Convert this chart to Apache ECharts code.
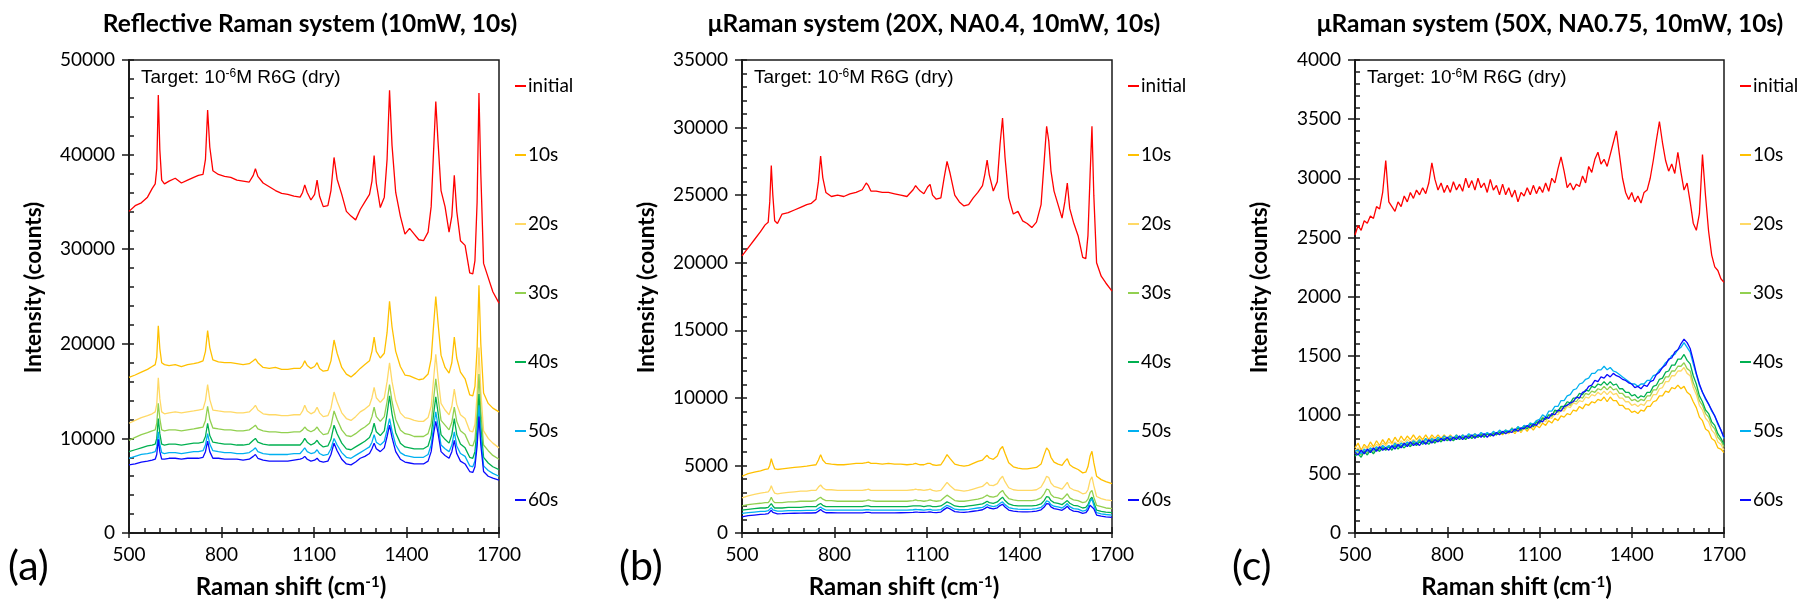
<!DOCTYPE html>
<html>
<head>
<meta charset="utf-8">
<script src="https://cdn.jsdelivr.net/npm/echarts@6/dist/echarts.min.js"></script>
<style>
html, body { margin: 0; padding: 0; background: #fff; }
#chart { width: 1803px; height: 604px; }
</style>
</head>
<body>
<div id="chart"></div>
<script>
// Raman shift (cm-1) sample points shared by panels (a) and (b)
const SHIFT_AB = [
    500, 520, 540, 560, 575, 585, 590, 595, 600, 606,
    615, 630, 650, 670, 690, 710, 725, 740, 748, 755,
    762, 772, 790, 810, 830, 850, 870, 890, 903, 910,
    918, 935, 955, 975, 995, 1015, 1035, 1055, 1063, 1070,
    1078, 1090, 1102, 1110, 1118, 1130, 1145, 1155, 1165, 1175,
    1190, 1205, 1220, 1235, 1250, 1265, 1280, 1288, 1295, 1302,
    1315, 1328, 1337, 1345, 1353, 1365, 1380, 1395, 1410, 1425,
    1440, 1455, 1470, 1480, 1488, 1495, 1502, 1512, 1525, 1538,
    1547, 1555, 1563, 1575, 1590, 1605, 1615, 1622, 1629, 1635,
    1641, 1650, 1665, 1680, 1700
];

// (a) Reflective Raman system
const A_INIT = [
    34000, 34600, 34900, 35500, 36400, 36900, 38500, 46300, 40500, 37300,
    36900, 37200, 37500, 37000, 37300, 37600, 37800, 37900, 39500, 44700,
    40800, 38300, 37900, 37700, 37600, 37300, 37200, 37100, 37800, 38500,
    37700, 37000, 36600, 36200, 35900, 35800, 35600, 35500, 36000, 36800,
    36000, 35200, 35800, 37300, 35600, 34500, 34600, 36200, 39700, 37400,
    35800, 34000, 33500, 33100, 34200, 35000, 35800, 37200, 39900, 37000,
    34400, 35500, 39500, 46800, 41000, 36000, 33500, 31600, 32200, 31600,
    31000, 30900, 31800, 34500, 40500, 45600, 41500, 36200, 34500, 31800,
    33500, 37800, 34000, 30900, 30400, 27500, 27400, 28800, 35000, 46500,
    38000, 28500, 27000, 25500, 24300
];
const A_10 = [
    16450, 16700, 17000, 17300, 17600, 17800, 18600, 21900, 19500, 18000,
    17800, 17700, 17800, 17600, 17800, 17900, 18000, 18200, 19200, 21400,
    19600, 18300, 18100, 18000, 18000, 17900, 17800, 17900, 18200, 18400,
    18000, 17500, 17400, 17500, 17300, 17300, 17400, 17400, 17700, 18200,
    17700, 17400, 17600, 18000, 17400, 17100, 17200, 18200, 20400, 19000,
    17500, 16800, 16500, 16900, 17400, 17800, 18200, 19200, 20700, 19200,
    18500, 19000, 21200, 24500, 21800, 19200, 17600, 16700, 16600, 16400,
    16200, 16300, 16800, 18400, 22000, 25000, 22300, 18800, 17500, 16900,
    18000, 20700, 18500, 17000, 16300, 14600, 14500, 15500, 19500, 26200,
    20000, 14800, 13700, 13200, 12800
];
const A_20 = [
    11600, 11900, 12200, 12400, 12600, 12800, 13600, 16400, 14200, 12800,
    12600, 12700, 12800, 12700, 12800, 12900, 13000, 13100, 14000, 15700,
    14100, 13000, 12900, 12800, 12800, 12700, 12700, 12800, 13200, 13500,
    13000, 12600, 12500, 12500, 12400, 12400, 12500, 12500, 12900, 13500,
    12900, 12600, 12800, 13300, 12700, 12300, 12400, 13200, 14900, 13900,
    12700, 12100, 11900, 12300, 12800, 13100, 13500, 14300, 15400, 14300,
    13800, 14300, 16000, 18000, 16000, 14000, 12700, 12200, 12100, 11900,
    11800, 11800, 12200, 13400, 16300, 18900, 16500, 13700, 13000, 12500,
    13400, 15200, 13600, 12500, 12100, 10800, 10700, 11500, 14700, 19600,
    15000, 10800, 10000, 9500, 9000
];
const A_30 = [
    9800, 10100, 10400, 10600, 10800, 10900, 11600, 13700, 12100, 10900,
    10800, 10900, 10900, 10800, 10900, 11000, 11100, 11200, 11900, 13400,
    12000, 11100, 11000, 10900, 10900, 10800, 10800, 10900, 11200, 11400,
    11000, 10800, 10700, 10700, 10600, 10600, 10700, 10700, 10900, 11200,
    10900, 10700, 10900, 11200, 10800, 10400, 10500, 11300, 12900, 12000,
    10900, 10300, 10200, 10500, 10900, 11200, 11600, 12300, 13300, 12300,
    11800, 12300, 13900, 15700, 13900, 12000, 10900, 10500, 10400, 10200,
    10200, 10200, 10500, 11600, 14200, 16300, 14400, 11900, 11400, 10900,
    11700, 13300, 11800, 10800, 10400, 9300, 9200, 9900, 12700, 16800,
    12900, 9300, 8700, 8200, 7800
];
const A_40 = [
    8600, 8800, 9000, 9200, 9300, 9400, 10000, 12100, 10500, 9400,
    9300, 9400, 9400, 9300, 9400, 9500, 9500, 9600, 10200, 11600,
    10300, 9600, 9500, 9400, 9400, 9300, 9300, 9400, 9800, 10000,
    9600, 9400, 9300, 9300, 9300, 9300, 9300, 9300, 9600, 10000,
    9600, 9300, 9500, 9800, 9400, 9100, 9200, 9900, 11400, 10500,
    9500, 8900, 8800, 9100, 9400, 9700, 10100, 10700, 11600, 10700,
    10300, 10800, 12600, 14500, 12600, 10600, 9500, 9100, 9000, 8900,
    8900, 8900, 9200, 10300, 12600, 14400, 12800, 10400, 9900, 9500,
    10400, 12100, 10400, 9400, 9000, 8000, 7900, 8600, 11000, 14700,
    11200, 8000, 7400, 7000, 6700
];
const A_50 = [
    7900, 8100, 8300, 8400, 8500, 8600, 9100, 10700, 9400, 8500,
    8400, 8500, 8500, 8400, 8500, 8600, 8600, 8700, 9300, 10500,
    9400, 8700, 8600, 8500, 8500, 8400, 8400, 8500, 8800, 9000,
    8600, 8400, 8300, 8300, 8300, 8300, 8400, 8400, 8700, 9000,
    8600, 8400, 8500, 8800, 8400, 8200, 8300, 8900, 10000, 9300,
    8500, 8000, 7900, 8200, 8500, 8800, 9100, 9600, 10400, 9600,
    9300, 9700, 10900, 12100, 10800, 9300, 8500, 8200, 8100, 8000,
    8000, 8000, 8300, 9300, 11300, 12800, 11400, 9300, 8900, 8600,
    9300, 10700, 9200, 8400, 8100, 7100, 7000, 7600, 10000, 13500,
    10200, 7100, 6600, 6300, 6000
];
const A_60 = [
    7200, 7300, 7500, 7600, 7700, 7800, 8300, 9900, 8600, 7800,
    7800, 7900, 7900, 7800, 7900, 7900, 7900, 8000, 8600, 9700,
    8600, 7900, 7900, 7800, 7800, 7800, 7700, 7800, 8100, 8300,
    7900, 7700, 7600, 7600, 7600, 7600, 7700, 7800, 7900, 8100,
    7800, 7600, 7700, 7900, 7600, 7500, 7600, 8300, 9500, 8700,
    7800, 7300, 7200, 7500, 7900, 8100, 8400, 8900, 9500, 8900,
    8600, 9000, 10200, 11400, 10100, 8600, 7800, 7500, 7400, 7300,
    7300, 7300, 7600, 8600, 10500, 11800, 10600, 8600, 8200, 7900,
    8600, 9800, 8400, 7600, 7300, 6500, 6400, 7000, 9200, 12300,
    9300, 6500, 6000, 5800, 5600
];

// (b) uRaman system, 20X
const B_INIT = [
    20500, 21100, 21700, 22300, 22800, 23000, 24500, 27200, 25000, 23100,
    22900, 23600, 23700, 23900, 24100, 24300, 24400, 24700, 26000, 27900,
    26300, 25200, 24900, 25000, 24900, 25100, 25200, 25400, 25900, 25700,
    25300, 25300, 25200, 25200, 25100, 25000, 24900, 25400, 25700, 25500,
    25300, 25100, 25600, 25800, 25000, 24700, 24800, 26200, 27500, 26600,
    25000, 24500, 24200, 24300, 24800, 25200, 25700, 26600, 27600, 26500,
    25300, 26000, 28800, 30700, 27800, 24800, 23600, 23800, 23100, 22900,
    22600, 23000, 24300, 27500, 30100, 29000, 26800, 25300, 24300, 23300,
    24500, 25900, 24000, 23000, 22000, 20400, 20300, 22000, 26500, 30100,
    25000, 20000, 19000, 18500, 17900
];
const B_10 = [
    4200, 4400, 4500, 4600, 4700, 4750, 5000, 5500, 5100, 4750,
    4700, 4750, 4800, 4850, 4900, 4950, 5000, 5050, 5400, 5800,
    5400, 5150, 5100, 5050, 5050, 5100, 5150, 5150, 5200, 5250,
    5150, 5150, 5100, 5150, 5100, 5100, 5050, 5100, 5150, 5100,
    5050, 5050, 5150, 5150, 5050, 5000, 5050, 5400, 5800, 5500,
    5100, 5000, 4950, 5000, 5150, 5300, 5400, 5600, 5750, 5550,
    5450, 5700, 6200, 6400, 5900, 5200, 4900, 4800, 4750, 4750,
    4800, 4850, 5100, 5800, 6300, 6100, 5600, 5250, 5100, 5000,
    5300, 5500, 5050, 4850, 4700, 4450, 4500, 4900, 5700, 6050,
    5200, 4200, 3950, 3800, 3650
];
const B_20 = [
    2600, 2750, 2850, 2950, 3000, 3050, 3200, 3500, 3200, 2950,
    2900, 2950, 3000, 3050, 3100, 3100, 3150, 3150, 3400, 3550,
    3350, 3200, 3200, 3150, 3150, 3150, 3150, 3150, 3200, 3250,
    3150, 3150, 3150, 3150, 3150, 3150, 3150, 3200, 3250, 3200,
    3200, 3150, 3200, 3250, 3150, 3100, 3150, 3450, 3750, 3500,
    3200, 3150, 3100, 3150, 3250, 3350, 3450, 3600, 3750, 3550,
    3500, 3650, 4000, 4200, 3800, 3350, 3200, 3150, 3150, 3150,
    3150, 3200, 3400, 3800, 4200, 4100, 3700, 3450, 3350, 3250,
    3500, 3750, 3350, 3200, 3100, 2900, 2950, 3200, 3900, 4150,
    3500, 2700, 2550, 2450, 2400
];
const B_30 = [
    2000, 2100, 2150, 2200, 2250, 2250, 2400, 2650, 2400, 2250,
    2250, 2250, 2300, 2300, 2350, 2350, 2350, 2400, 2550, 2650,
    2500, 2400, 2400, 2350, 2350, 2350, 2350, 2350, 2400, 2450,
    2400, 2350, 2350, 2350, 2350, 2350, 2350, 2400, 2450, 2400,
    2400, 2350, 2400, 2450, 2400, 2350, 2400, 2600, 2800, 2650,
    2400, 2350, 2350, 2400, 2450, 2500, 2600, 2700, 2800, 2700,
    2650, 2750, 3000, 3150, 2850, 2550, 2450, 2400, 2400, 2400,
    2400, 2450, 2600, 2900, 3250, 3200, 2850, 2650, 2600, 2500,
    2700, 2900, 2600, 2450, 2400, 2250, 2300, 2500, 3000, 3150,
    2650, 2050, 1950, 1850, 1800
];
const B_40 = [
    1700, 1750, 1800, 1850, 1850, 1900, 1950, 2180, 2000, 1850,
    1850, 1850, 1900, 1900, 1900, 1950, 1950, 1950, 2100, 2180,
    2050, 1950, 1950, 1950, 1950, 1950, 1950, 1950, 2000, 2000,
    1950, 1950, 1950, 1950, 1950, 1950, 1950, 2000, 2000, 2000,
    2000, 1950, 2000, 2000, 1950, 1950, 2000, 2150, 2300, 2200,
    2000, 1950, 1950, 2000, 2050, 2100, 2150, 2250, 2350, 2250,
    2200, 2300, 2500, 2650, 2400, 2150, 2050, 2000, 2000, 2000,
    2000, 2050, 2150, 2400, 2700, 2650, 2400, 2250, 2200, 2100,
    2250, 2400, 2200, 2050, 2000, 1850, 1900, 2100, 2500, 2650,
    2250, 1700, 1600, 1550, 1500
];
const B_50 = [
    1450, 1500, 1550, 1600, 1600, 1650, 1700, 1880, 1720, 1620,
    1620, 1620, 1650, 1650, 1650, 1680, 1680, 1700, 1820, 1930,
    1800, 1700, 1700, 1690, 1690, 1690, 1690, 1690, 1720, 1730,
    1700, 1690, 1690, 1690, 1690, 1690, 1700, 1720, 1740, 1730,
    1720, 1700, 1730, 1740, 1700, 1690, 1730, 1900, 2050, 1950,
    1760, 1720, 1720, 1750, 1800, 1850, 1900, 2000, 2120, 2020,
    1950, 2030, 2200, 2300, 2100, 1880, 1800, 1760, 1750, 1750,
    1760, 1800, 1900, 2100, 2370, 2330, 2100, 1980, 1930, 1850,
    2000, 2180, 1950, 1800, 1760, 1620, 1680, 1900, 2350, 2520,
    2050, 1500, 1420, 1370, 1330
];
const B_60 = [
    1200, 1280, 1330, 1380, 1400, 1430, 1480, 1680, 1520, 1430,
    1420, 1430, 1450, 1460, 1470, 1480, 1480, 1500, 1620, 1740,
    1600, 1500, 1500, 1490, 1490, 1490, 1490, 1490, 1520, 1530,
    1500, 1490, 1490, 1490, 1490, 1500, 1510, 1530, 1550, 1540,
    1530, 1520, 1540, 1560, 1520, 1510, 1550, 1730, 1880, 1780,
    1580, 1540, 1530, 1560, 1610, 1660, 1720, 1820, 1930, 1850,
    1780, 1860, 2030, 2130, 1920, 1700, 1620, 1580, 1570, 1570,
    1580, 1620, 1720, 1920, 2180, 2150, 1930, 1800, 1750, 1680,
    1820, 1980, 1760, 1620, 1580, 1450, 1500, 1700, 2050, 2180,
    1800, 1330, 1250, 1200, 1160
];

// (c) uRaman system, 50X -- sampled every 10 cm-1
const SHIFT_C = [
    500, 510, 520, 530, 540, 550, 560, 570, 580, 590,
    600, 610, 620, 630, 640, 650, 660, 670, 680, 690,
    700, 710, 720, 730, 740, 750, 760, 770, 780, 790,
    800, 810, 820, 830, 840, 850, 860, 870, 880, 890,
    900, 910, 920, 930, 940, 950, 960, 970, 980, 990,
    1000, 1010, 1020, 1030, 1040, 1050, 1060, 1070, 1080, 1090,
    1100, 1110, 1120, 1130, 1140, 1150, 1160, 1170, 1180, 1190,
    1200, 1210, 1220, 1230, 1240, 1250, 1260, 1270, 1280, 1290,
    1300, 1310, 1320, 1330, 1340, 1350, 1360, 1370, 1380, 1390,
    1400, 1410, 1420, 1430, 1440, 1450, 1460, 1470, 1480, 1490,
    1500, 1510, 1520, 1530, 1540, 1550, 1560, 1570, 1580, 1590,
    1600, 1610, 1620, 1630, 1640, 1650, 1660, 1670, 1680, 1690,
    1700
];
const C_INIT = [
    2520, 2600, 2560, 2640, 2620, 2680, 2660, 2760, 2740, 2880,
    3150, 2800, 2760, 2720, 2800, 2760, 2850, 2800, 2880, 2830,
    2900, 2860, 2920, 2870, 2960, 3130, 2990, 2900, 2960, 2880,
    2940, 2880, 2970, 2900, 2950, 2890, 3000, 2920, 2980, 2900,
    3000, 2920, 2960, 2880, 2990, 2900, 2940, 2860, 2950, 2860,
    2920, 2840, 2900, 2800, 2880, 2850, 2920, 2860, 2940, 2870,
    2930, 2880, 2960, 2890, 3000, 2960, 3080, 3180, 3060, 2920,
    2960, 2900, 2950, 2930, 3020, 2960, 3100, 3050, 3160, 3220,
    3120, 3160, 3100, 3200, 3300, 3400, 3200, 3000, 2880, 2820,
    2880, 2800, 2850, 2790, 2880, 2900, 3000, 3150, 3320, 3480,
    3300, 3150, 3060, 3120, 3040, 3220, 3050, 2900, 2960, 2800,
    2620, 2560, 2700, 3200, 2850, 2550, 2350, 2250, 2220, 2150,
    2120
];
const C_10 = [
    720, 760, 700, 750, 720, 770, 730, 780, 740, 790,
    750, 800, 760, 810, 770, 820, 780, 820, 790, 830,
    790, 820, 790, 830, 790, 830, 800, 830, 800, 830,
    800, 830, 800, 830, 800, 830, 800, 830, 810, 840,
    810, 840, 820, 840, 820, 850, 830, 850, 830, 860,
    840, 870, 840, 880, 850, 890, 860, 900, 870, 910,
    890, 930, 910, 950, 930, 970, 950, 990, 980, 1010,
    1000, 1040, 1030, 1070, 1050, 1090, 1080, 1110, 1100, 1130,
    1120, 1150, 1110, 1150, 1120, 1120, 1080, 1080, 1050, 1050,
    1020, 1030, 1010, 1040, 1030, 1070, 1070, 1110, 1120, 1160,
    1160, 1200, 1190, 1230, 1220, 1250, 1220, 1240, 1190, 1170,
    1110, 1060, 980, 950, 880, 860, 800, 780, 720, 710,
    680
];
const C_20 = [
    700, 720, 690, 730, 710, 740, 720, 750, 730, 760,
    740, 770, 750, 770, 750, 780, 760, 790, 770, 790,
    770, 800, 780, 800, 780, 810, 790, 810, 790, 810,
    790, 820, 800, 820, 800, 820, 800, 830, 810, 830,
    810, 830, 820, 840, 820, 840, 830, 850, 840, 860,
    840, 880, 850, 890, 860, 900, 880, 910, 890, 930,
    920, 960, 940, 980, 970, 1010, 1000, 1040, 1030, 1070,
    1060, 1100, 1090, 1120, 1110, 1150, 1140, 1170, 1160, 1190,
    1170, 1200, 1170, 1200, 1170, 1180, 1140, 1140, 1110, 1110,
    1080, 1090, 1070, 1090, 1080, 1120, 1120, 1170, 1170, 1220,
    1230, 1280, 1280, 1330, 1330, 1370, 1370, 1400, 1350, 1330,
    1230, 1170, 1080, 1040, 970, 940, 870, 840, 770, 750,
    700
];
const C_30 = [
    670, 690, 660, 700, 680, 710, 690, 720, 700, 730,
    710, 740, 720, 750, 730, 760, 740, 760, 740, 770,
    750, 780, 760, 790, 770, 790, 770, 800, 780, 800,
    790, 810, 790, 820, 800, 820, 800, 830, 810, 830,
    810, 840, 820, 840, 830, 850, 840, 860, 850, 870,
    850, 890, 860, 900, 870, 910, 890, 930, 910, 950,
    940, 980, 960, 1000, 990, 1030, 1020, 1060, 1050, 1090,
    1080, 1120, 1110, 1150, 1140, 1180, 1170, 1200, 1190, 1220,
    1210, 1240, 1210, 1240, 1210, 1220, 1180, 1180, 1150, 1150,
    1120, 1130, 1110, 1130, 1120, 1160, 1160, 1210, 1210, 1260,
    1270, 1320, 1320, 1370, 1370, 1410, 1410, 1440, 1390, 1370,
    1270, 1210, 1120, 1080, 1010, 980, 910, 880, 810, 780,
    730
];
const C_40 = [
    650, 670, 640, 690, 660, 700, 670, 710, 690, 720,
    700, 730, 700, 740, 710, 740, 720, 750, 730, 760,
    740, 770, 750, 770, 750, 780, 760, 790, 770, 800,
    780, 800, 780, 810, 790, 810, 790, 820, 800, 820,
    810, 830, 810, 840, 820, 840, 830, 850, 840, 860,
    850, 880, 860, 890, 870, 900, 880, 920, 900, 940,
    930, 970, 960, 1000, 990, 1040, 1030, 1070, 1070, 1110,
    1100, 1140, 1140, 1180, 1170, 1210, 1200, 1240, 1230, 1260,
    1250, 1280, 1250, 1280, 1250, 1260, 1220, 1220, 1190, 1190,
    1160, 1170, 1140, 1160, 1150, 1190, 1190, 1240, 1250, 1300,
    1310, 1360, 1370, 1420, 1420, 1470, 1470, 1510, 1460, 1430,
    1330, 1260, 1160, 1110, 1040, 1010, 940, 910, 840, 800,
    750
];
const C_50 = [
    690, 700, 670, 710, 690, 720, 700, 730, 710, 740,
    720, 740, 720, 760, 730, 760, 740, 770, 750, 780,
    760, 790, 760, 800, 770, 800, 780, 810, 790, 820,
    800, 820, 800, 830, 800, 830, 810, 840, 820, 840,
    820, 850, 830, 850, 830, 860, 840, 870, 850, 870,
    860, 880, 870, 900, 880, 910, 900, 930, 920, 950,
    960, 1000, 980, 1030, 1030, 1070, 1070, 1120, 1120, 1160,
    1170, 1210, 1220, 1260, 1270, 1300, 1310, 1350, 1350, 1380,
    1380, 1410, 1380, 1400, 1370, 1360, 1340, 1320, 1300, 1280,
    1260, 1260, 1240, 1260, 1260, 1290, 1290, 1330, 1340, 1380,
    1400, 1440, 1460, 1500, 1510, 1550, 1570, 1610, 1570, 1530,
    1430, 1340, 1250, 1190, 1130, 1090, 1030, 990, 920, 870,
    800
];
const C_60 = [
    680, 660, 700, 670, 710, 680, 720, 690, 730, 700,
    720, 700, 740, 710, 750, 720, 760, 730, 770, 740,
    760, 740, 780, 750, 790, 760, 790, 770, 800, 780,
    810, 780, 810, 790, 820, 790, 820, 800, 830, 800,
    830, 810, 840, 810, 840, 820, 850, 830, 860, 840,
    860, 850, 880, 860, 890, 880, 910, 890, 920, 910,
    950, 940, 980, 970, 1010, 1000, 1040, 1030, 1070, 1080,
    1100, 1110, 1150, 1140, 1190, 1200, 1240, 1250, 1290, 1280,
    1320, 1310, 1340, 1320, 1350, 1330, 1320, 1300, 1290, 1270,
    1260, 1230, 1240, 1220, 1250, 1240, 1280, 1290, 1340, 1360,
    1400, 1420, 1470, 1480, 1530, 1550, 1600, 1640, 1610, 1560,
    1460, 1350, 1260, 1190, 1140, 1090, 1040, 990, 930, 870,
    810
];

const NAMES = ["initial", "10s", "20s", "30s", "40s", "50s", "60s"];
const COLORS = ["#ff0000", "#ffc000", "#ffd966", "#92d050", "#00b050", "#00b0f0", "#0a0aff"];

const panels = [
    {
        title: "Reflective Raman system (10mW, 10s)",
        tag: "(a)", shift: SHIFT_AB, yMax: 50000, yStep: 10000,
        values: [A_INIT, A_10, A_20, A_30, A_40, A_50, A_60],
        left: 129, width: 370, tagLeft: 8, titleX: 310
    },
    {
        title: "μRaman system (20X, NA0.4, 10mW, 10s)",
        tag: "(b)", shift: SHIFT_AB, yMax: 35000, yStep: 5000,
        values: [B_INIT, B_10, B_20, B_30, B_40, B_50, B_60],
        left: 742, width: 370, tagLeft: 619, titleX: 934
    },
    {
        title: "μRaman system (50X, NA0.75, 10mW, 10s)",
        tag: "(c)", shift: SHIFT_C, yMax: 4000, yStep: 500,
        values: [C_INIT, C_10, C_20, C_30, C_40, C_50, C_60],
        left: 1355, width: 369, tagLeft: 1232, titleX: 1550
    }
];

const TOP = 60;
const HEIGHT = 475;
const boldFont = { fontFamily: "Lato", fontWeight: "bold", color: "#000" };
const axisColor = "#1a1a1a";
const tickStyle = { color: axisColor, width: 1.5 };
const plain = v => String(v);

const grid = [];
const xAxis = [];
const yAxis = [];
const series = [];
const title = [];
const legend = [];

panels.forEach((p, gi) => {
    grid.push({
        left: p.left, top: TOP, width: p.width, height: HEIGHT,
        show: true, borderColor: axisColor, borderWidth: 1.5,
        backgroundColor: "transparent"
    });

    // main x axis: labels, name, ticks + minor ticks pointing in
    xAxis.push({
        gridIndex: gi, type: "value", position: "bottom",
        min: 500, max: 1700, interval: 300,
        name: "Raman shift (cm{sup|-1})",
        nameLocation: "middle", nameGap: 42,
        nameTextStyle: Object.assign({}, boldFont, {
            fontSize: 24,
            padding: [0, 46, 0, 0],
            rich: { sup: { fontFamily: "Lato", fontWeight: "bold", fontSize: 15, verticalAlign: "top", color: "#000" } }
        }),
        axisLine: { lineStyle: tickStyle },
        axisTick: { show: true, inside: true, length: 6, lineStyle: tickStyle },
        minorTick: { show: true, splitNumber: 6, length: 5, lineStyle: tickStyle },
        axisLabel: { fontFamily: "Lato", fontSize: 19, color: "#000", margin: 12, formatter: plain },
        splitLine: { show: false }
    });
    // twin x axis: the outer half of the major ticks
    xAxis.push({
        gridIndex: gi, type: "value", position: "bottom",
        min: 500, max: 1700, interval: 300,
        axisLine: { show: true, lineStyle: tickStyle },
        axisTick: { show: true, length: 5, lineStyle: tickStyle },
        axisLabel: { show: false },
        splitLine: { show: false }
    });

    yAxis.push({
        gridIndex: gi, type: "value", position: "left",
        min: 0, max: p.yMax, interval: p.yStep,
        name: "Intensity (counts)",
        nameLocation: "middle", nameGap: 84,
        nameTextStyle: Object.assign({}, boldFont, { fontSize: 22.5, padding: [0, 0, 0, 18] }),
        axisLine: { lineStyle: tickStyle },
        axisTick: { show: true, inside: true, length: 5, lineStyle: tickStyle },
        minorTick: { show: true, splitNumber: 5, length: 5, lineStyle: tickStyle },
        axisLabel: { fontFamily: "Lato", fontSize: 19, color: "#000", margin: 14, formatter: plain },
        splitLine: { show: false }
    });
    // twin y axis: major ticks pointing out
    yAxis.push({
        gridIndex: gi, type: "value", position: "left",
        min: 0, max: p.yMax, interval: p.yStep,
        axisLine: { show: true, lineStyle: tickStyle },
        axisTick: { show: true, length: 7, lineStyle: tickStyle },
        axisLabel: { show: false },
        splitLine: { show: false }
    });

    p.values.forEach((vals, si) => {
        series.push({
            name: NAMES[si], type: "line",
            xAxisIndex: gi * 2, yAxisIndex: gi * 2,
            data: p.shift.map((x, i) => [x, vals[i]]),
            symbol: "none", silent: true,
            lineStyle: { color: COLORS[si], width: 1.3 },
            itemStyle: { color: COLORS[si] }
        });
    });

    title.push({
        text: p.title, left: p.titleX, top: 12, textAlign: "center", padding: 0,
        textStyle: Object.assign({}, boldFont, { fontSize: 24.5 })
    });
    title.push({
        text: "Target: 10{sup|-6}M R6G (dry)", left: p.left + 12, top: 68, padding: 0,
        textStyle: {
            fontFamily: "Liberation Sans", fontWeight: "normal", fontSize: 19, color: "#000",
            rich: { sup: { fontFamily: "Liberation Sans", fontSize: 12, verticalAlign: "top", color: "#000" } }
        }
    });
    title.push({
        text: p.tag, left: p.tagLeft, top: 546, padding: 0,
        textStyle: { fontFamily: "Lato", fontWeight: "normal", fontSize: 41, color: "#000" }
    });

    legend.push({
        data: NAMES, orient: "vertical",
        left: p.left + p.width + 16, top: 76,
        itemGap: 49, itemWidth: 11, itemHeight: 2, icon: "rect",
        selectedMode: false, padding: 0,
        textStyle: { fontFamily: "Lato", fontSize: 19, lineHeight: 20, color: "#000", padding: [0, 0, 0, -3] }
    });
});

const chart = echarts.init(document.getElementById("chart"));
chart.setOption({
    animation: false,
    backgroundColor: "#fff",
    title: title,
    legend: legend,
    grid: grid,
    xAxis: xAxis,
    yAxis: yAxis,
    series: series
});
</script>
</body>
</html>
